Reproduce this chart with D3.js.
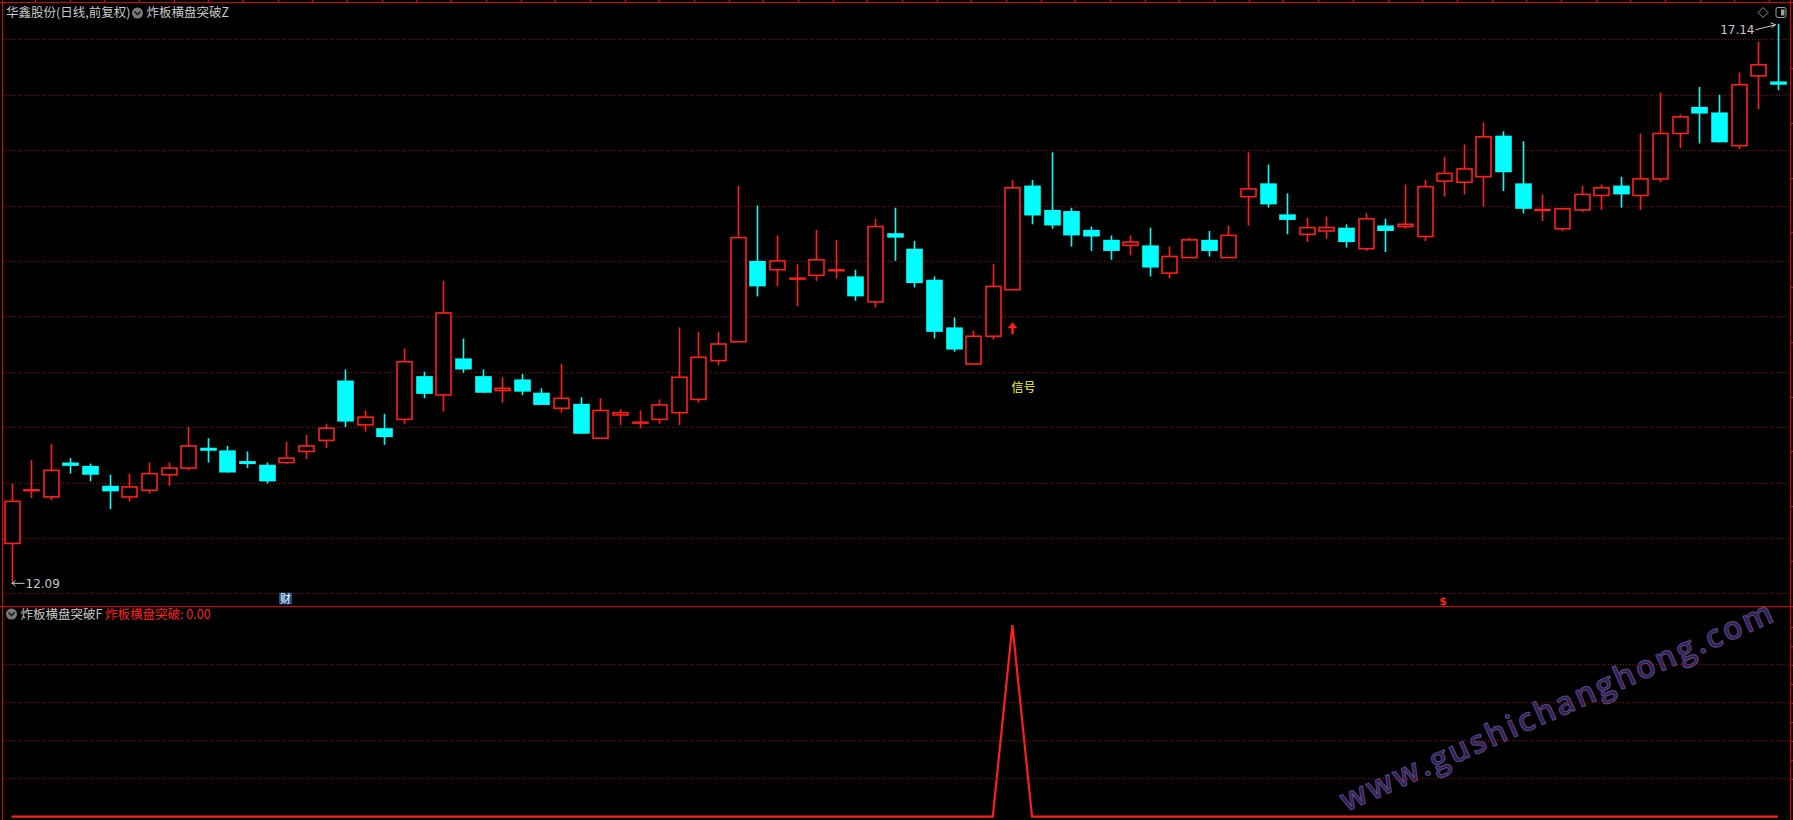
<!DOCTYPE html>
<html><head><meta charset="utf-8">
<script src="https://cdn.jsdelivr.net/npm/d3@7"></script>
<style>html,body{margin:0;padding:0;background:#000;overflow:hidden}</style>
</head><body>
<svg id="c" width="1793" height="820"></svg>
<script>
const opens  = [12.45,12.93,12.87,13.18,13.15,12.97,12.87,12.93,13.07,13.13,13.31,13.29,13.19,13.16,13.18,13.28,13.38,13.92,13.52,13.49,13.57,13.96,13.79,14.12,13.96,13.83,13.93,13.81,13.67,13.71,13.40,13.61,13.54,13.57,13.63,13.75,14.10,14.27,15.00,14.92,14.84,14.87,14.91,14.86,14.63,15.25,15.11,14.83,14.40,14.07,14.32,14.74,15.68,15.46,15.45,15.28,15.19,15.14,15.14,14.89,15.03,15.19,15.03,15.58,15.70,15.42,15.24,15.27,15.30,15.11,15.32,15.31,15.22,15.72,15.71,15.76,16.13,15.70,15.46,15.29,15.46,15.59,15.68,15.59,15.74,16.15,16.39,16.34,16.04,16.67,16.62];
const highs  = [12.99,13.20,13.35,13.22,13.17,13.07,13.08,13.18,13.18,13.50,13.40,13.33,13.28,13.18,13.37,13.43,13.53,14.02,13.65,13.62,14.21,14.00,14.82,14.30,14.02,13.95,13.98,13.85,14.07,13.77,13.76,13.66,13.65,13.75,14.40,14.36,14.36,15.68,15.50,15.23,14.97,15.28,15.19,14.92,15.38,15.48,15.18,14.86,14.49,14.37,14.97,15.73,15.73,15.98,15.48,15.31,15.23,15.23,15.30,15.13,15.21,15.27,15.32,15.98,15.87,15.61,15.39,15.40,15.33,15.43,15.38,15.69,15.73,15.94,16.05,16.25,16.17,16.08,15.60,15.47,15.68,15.69,15.76,16.15,16.52,16.32,16.57,16.50,16.70,16.98,17.14];
const lows   = [12.09,12.86,12.84,13.08,13.01,12.76,12.83,12.90,12.97,13.11,13.18,13.09,13.13,12.99,13.17,13.21,13.31,13.50,13.46,13.34,13.53,13.76,13.64,13.99,13.81,13.72,13.79,13.70,13.63,13.44,13.40,13.52,13.49,13.53,13.52,13.72,14.06,14.27,14.68,14.77,14.59,14.82,14.84,14.64,14.58,15.00,14.76,14.30,14.18,14.07,14.29,14.74,15.33,15.29,15.13,15.09,15.01,15.05,14.86,14.84,15.03,15.04,15.03,15.32,15.48,15.24,15.17,15.20,15.12,15.09,15.08,15.29,15.18,15.58,15.60,15.49,15.63,15.43,15.36,15.27,15.44,15.46,15.48,15.46,15.71,16.02,16.06,16.07,16.01,16.37,16.54];
const closes = [12.83,12.93,13.11,13.15,13.07,12.92,12.96,13.08,13.13,13.33,13.29,13.09,13.17,13.01,13.22,13.33,13.49,13.55,13.59,13.41,14.09,13.80,14.53,14.02,13.81,13.85,13.82,13.70,13.76,13.44,13.65,13.63,13.54,13.70,13.95,14.13,14.25,15.21,14.77,15.00,14.84,15.01,14.92,14.68,15.31,15.21,14.80,14.36,14.20,14.32,14.77,15.66,15.41,15.32,15.23,15.22,15.09,15.17,14.94,15.04,15.19,15.09,15.23,15.65,15.51,15.37,15.30,15.30,15.17,15.38,15.27,15.33,15.67,15.79,15.83,16.12,15.80,15.47,15.46,15.47,15.60,15.66,15.60,15.74,16.15,16.30,16.33,16.07,16.59,16.77,16.59];
const signal = [0,0,0,0,0,0,0,0,0,0,0,0,0,0,0,0,0,0,0,0,0,0,0,0,0,0,0,0,0,0,0,0,0,0,0,0,0,0,0,0,0,0,0,0,0,0,0,0,0,0,0,1,0,0,0,0,0,0,0,0,0,0,0,0,0,0,0,0,0,0,0,0,0,0,0,0,0,0,0,0,0,0,0,0,0,0,0,0,0,0,0];
const priceTicks = [12.0,12.5,13.0,13.5,14.0,14.5,15.0,15.5,16.0,16.5,17.0];
const subTicks = [0.2,0.4,0.6,0.8];
const titleMain = "华鑫股份(日线,前复权)";
const indMain = "炸板横盘突破Z";
const indSub = "炸板横盘突破F";
const indSubVal = "炸板横盘突破: ";
const signalText = "信号";

const W = 1793, H = 820;
const RED = "#ff1e1e", CYAN = "#00ffff", GRID = "#a00000", BORDER = "#e00000";
const FONT = "'Noto Sans CJK SC','DejaVu Sans',sans-serif";
const svg = d3.select("#c");
svg.append("rect").attr("width",W).attr("height",H).attr("fill","#000");

const n = opens.length;
const x = d3.scaleLinear().domain([0, n-1]).range([11.5, 1777.8]);
const y = d3.scaleLinear().domain([12, 17]).range([593.3, 39.3]);
const yb = d3.scaleLinear().domain([0, 1]).range([816.7, 625.2]);
const L = 2.5, R = 1790.5, TOP = 2.5, DIV = 606.5;

// watermark (drawn first, under everything)
svg.append("text").attr("transform","translate(1562,716) rotate(-24)")
  .attr("text-anchor","middle").attr("font-size",32).attr("letter-spacing",2.6)
  .attr("font-family","'Open Sans','DejaVu Sans',sans-serif").attr("font-weight",600)
  .attr("fill","#33204d").attr("stroke","#58478a").attr("stroke-width",1)
  .text("www.gushichanghong.com");

// grid lines
svg.append("g").selectAll("line").data(priceTicks).join("line")
  .attr("x1", L).attr("x2", R)
  .attr("y1", d => Math.round(y(d))+0.5).attr("y2", d => Math.round(y(d))+0.5)
  .attr("stroke", GRID).attr("stroke-dasharray","1,2").attr("shape-rendering","crispEdges");
svg.append("g").selectAll("line").data(subTicks).join("line")
  .attr("x1", L).attr("x2", R)
  .attr("y1", d => Math.round(yb(d))+0.5).attr("y2", d => Math.round(yb(d))+0.5)
  .attr("stroke", GRID).attr("stroke-dasharray","1,2").attr("shape-rendering","crispEdges");

// borders
const bd = svg.append("g").attr("stroke", BORDER).attr("shape-rendering","crispEdges").attr("stroke-width",1.5);
bd.append("line").attr("x1",0).attr("x2",W).attr("y1",TOP).attr("y2",TOP);
bd.append("line").attr("x1",L).attr("x2",L).attr("y1",0).attr("y2",H);
bd.append("line").attr("x1",R).attr("x2",R).attr("y1",0).attr("y2",H);
bd.append("line").attr("x1",0).attr("x2",W).attr("y1",DIV).attr("y2",DIV);
// top axis small ticks
const topTick = d3.scaleLinear().domain([0,50]).range([35,1769]);
svg.append("g").selectAll("line").data(d3.range(0,51)).join("line")
  .attr("x1", d=>Math.round(topTick(d))+0.5).attr("x2", d=>Math.round(topTick(d))+0.5)
  .attr("y1",0).attr("y2",TOP).attr("stroke",BORDER);
// right axis small ticks
const rTickMain = d3.scaleLinear().domain([0,9]).range([68,561]);
svg.append("g").selectAll("line").data(d3.range(0,10)).join("line")
  .attr("x1",R).attr("x2",W).attr("y1",d=>Math.round(rTickMain(d))+0.5).attr("y2",d=>Math.round(rTickMain(d))+0.5)
  .attr("stroke",BORDER);
const rTickSub = d3.scaleLinear().domain([0,8]).range([626.7,779.3]);
svg.append("g").selectAll("line").data(d3.range(0,9)).join("line")
  .attr("x1",R).attr("x2",W).attr("y1",d=>Math.round(rTickSub(d))+0.5).attr("y2",d=>Math.round(rTickSub(d))+0.5)
  .attr("stroke",BORDER);

// candles
const data = opens.map((o,i)=>({i, o, h:highs[i], l:lows[i], c:closes[i], up: closes[i] >= o}));
const cg = svg.append("g");
const cand = cg.selectAll("g").data(data).join("g");
const cxOf = d => Math.round(x(d.i)) + 0.5;
const bodyTop = d => y(Math.max(d.o,d.c));
const bodyBot = d => y(Math.min(d.o,d.c));
cand.append("line")
  .attr("x1", cxOf).attr("x2", cxOf)
  .attr("y1", d => y(d.h)).attr("y2", d => d.up ? bodyTop(d) : y(d.l))
  .attr("stroke", d => d.up ? RED : CYAN).attr("stroke-width", 1.6);
cand.filter(d=>d.up).append("line")
  .attr("x1", cxOf).attr("x2", cxOf)
  .attr("y1", d => bodyBot(d)).attr("y2", d => y(d.l))
  .attr("stroke", RED).attr("stroke-width", 1.6);
cand.filter(d=>d.up && bodyBot(d)-bodyTop(d) >= 2).append("rect")
  .attr("x", d => cxOf(d) - 7.5).attr("width", 15)
  .attr("y", d => bodyTop(d)).attr("height", d => bodyBot(d)-bodyTop(d))
  .attr("fill","#000").attr("stroke", RED).attr("stroke-width", 1.6);
cand.filter(d=>d.up && bodyBot(d)-bodyTop(d) < 2).append("rect")
  .attr("x", d => cxOf(d) - 8.3).attr("width", 16.6)
  .attr("y", d => (bodyTop(d)+bodyBot(d))/2 - 1.2).attr("height", 2.4)
  .attr("fill", RED);
cand.filter(d=>!d.up).append("rect")
  .attr("x", d => cxOf(d) - 8.3).attr("width", 16.6)
  .attr("y", d => Math.min(bodyTop(d), (bodyTop(d)+bodyBot(d))/2 - 1.5))
  .attr("height", d => Math.max(bodyBot(d)-bodyTop(d), 3))
  .attr("fill", CYAN);

// signal marker in main chart
const sigData = data.filter((d,i)=>signal[i] === 1);
const sg = svg.append("g");
sigData.forEach(d=>{
  const ax = cxOf(d), ay = y(d.l*0.98);
  sg.append("path").attr("d", `M${ax},${ay} L${ax+5},${ay+6} L${ax+1.2},${ay+6} L${ax+1.2},${ay+12} L${ax-1.2},${ay+12} L${ax-1.2},${ay+6} L${ax-5},${ay+6} Z`).attr("fill", RED);
  sg.append("text").attr("x", ax-1).attr("y", y(d.l*0.94)).attr("dy","0.35em")
    .attr("fill","#ffff00").attr("font-size",12).attr("font-family",FONT).text(signalText);
});

// high/low labels
const hiIdx = d3.maxIndex(highs), loIdx = d3.minIndex(lows);
const hx = cxOf(data[hiIdx]), hy = y(highs[hiIdx]);
svg.append("text").attr("x", hx-24).attr("y", hy+10).attr("text-anchor","end")
  .attr("fill","#c8c8c8").attr("font-size",12).attr("font-family","'DejaVu Sans',sans-serif").text(highs[hiIdx].toFixed(2));
svg.append("path").attr("d", `M${hx-23},${hy+6} L${hx-3},${hy+1}`).attr("stroke","#c8c8c8").attr("fill","none");
svg.append("path").attr("d", `M${hx-8},${hy-1} L${hx-3},${hy+1} L${hx-7},${hy+4}`).attr("stroke","#c8c8c8").attr("fill","none");
const lx = cxOf(data[loIdx]), ly = y(lows[loIdx]);
svg.append("path").attr("d", `M${lx-1},${ly} L${lx+12},${ly} M${lx+3},${ly-3} L${lx},${ly} L${lx+3},${ly+3}`).attr("stroke","#c8c8c8").attr("fill","none");
svg.append("text").attr("x", lx+13).attr("y", ly+5)
  .attr("fill","#c8c8c8").attr("font-size",12).attr("font-family","'DejaVu Sans',sans-serif").text(lows[loIdx].toFixed(2));

// sub indicator line
const line = d3.line().x((v,i)=>x(i)).y(v=>yb(v));
svg.append("path").datum(signal).attr("d", line).attr("fill","none").attr("stroke", RED).attr("stroke-width", 2.2);

// header texts
function icon(cx, cy){
  svg.append("circle").attr("cx",cx).attr("cy",cy).attr("r",5.5).attr("fill","#7a7a7a");
  svg.append("path").attr("d",`M${cx-3},${cy-1.5} L${cx},${cy+1.5} L${cx+3},${cy-1.5}`).attr("stroke","#1a1a1a").attr("stroke-width",1.6).attr("fill","none");
}
svg.append("text").attr("x",6).attr("y",17).attr("fill","#c8c8c8").attr("font-size",12.5).attr("font-family",FONT).text(titleMain);
icon(137.5, 13);
svg.append("text").attr("x",146.5).attr("y",17).attr("fill","#c8c8c8").attr("font-size",12.5).attr("font-family",FONT).text(indMain);
icon(11.5, 614);
svg.append("text").attr("x",20.5).attr("y",618.5).attr("fill","#c8c8c8").attr("font-size",12.5).attr("font-family",FONT).text(indSub);
svg.append("text").attr("x",105).attr("y",618.5).attr("fill","#ff1e1e").attr("font-size",12.5).attr("font-family",FONT)
  .text(indSubVal + signal[signal.length-1].toFixed(2));

// top-right icons
svg.append("path").attr("d","M1763,7.5 L1768,12.5 L1763,17.5 L1758,12.5 Z").attr("stroke","#909090").attr("fill","none");
svg.append("rect").attr("x",1776).attr("y",7.5).attr("width",10).attr("height",10).attr("rx",2).attr("stroke","#a0a0a0").attr("fill","none");
svg.append("rect").attr("x",1781).attr("y",9.5).attr("width",3.5).attr("height",6).attr("fill","#a0a0a0");

// 财 marker and $ marker
svg.append("rect").attr("x",279).attr("y",592.5).attr("width",13).attr("height",12).attr("fill","#1c4a86");
svg.append("text").attr("x",285.5).attr("y",603).attr("text-anchor","middle").attr("fill","#ffffff").attr("font-size",11).attr("font-family",FONT).text("财");
svg.append("text").attr("x",1443).attr("y",604.5).attr("text-anchor","middle").attr("fill","#ff1e1e").attr("font-size",11).attr("font-weight","bold").attr("font-family","'DejaVu Sans',sans-serif").text("$");
</script>
</body></html>
